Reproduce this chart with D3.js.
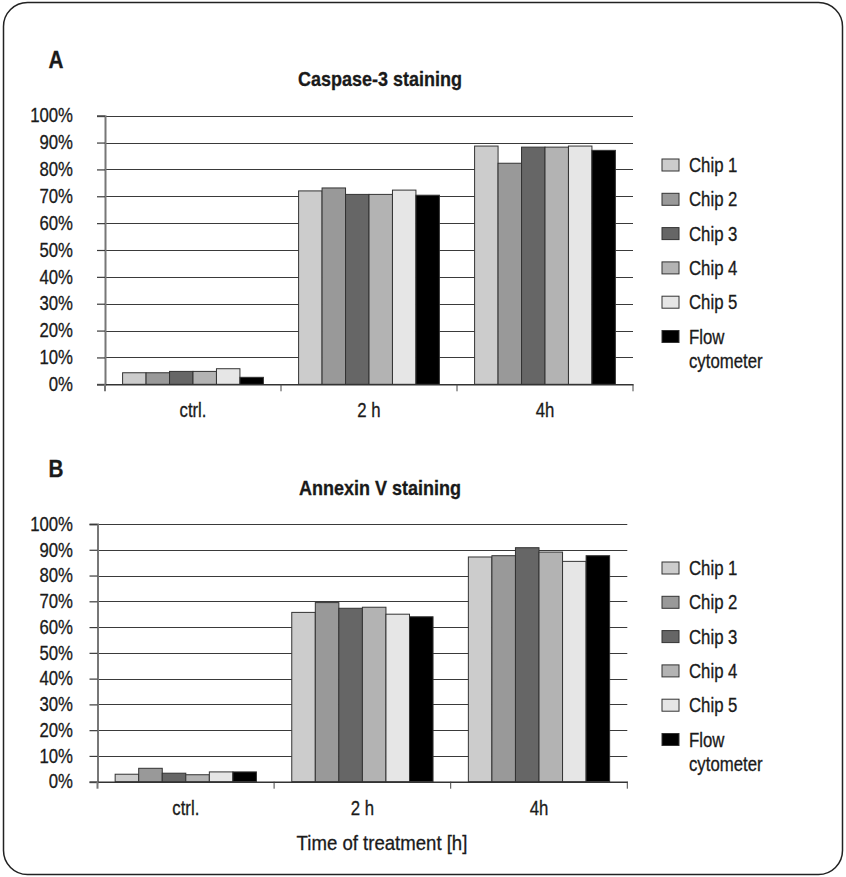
<!DOCTYPE html>
<html>
<head>
<meta charset="utf-8">
<script src="https://cdn.jsdelivr.net/npm/d3@7"></script>
<style>
  html, body { margin: 0; padding: 0; background: #fff; }
  svg { display: block; }
  text { font-family: "Liberation Sans", Arial, sans-serif; fill: #1a1a1a; stroke: #1a1a1a; stroke-width: 0.3px; }
</style>
</head>
<body>
<svg id="chart" width="846" height="877"></svg>
<script>
const categories = ["ctrl.", "2 h", "4h"];
const seriesNames = ["Chip 1", "Chip 2", "Chip 3", "Chip 4", "Chip 5", "Flow cytometer"];
const seriesColors = ["#cccccc", "#999999", "#666666", "#b3b3b3", "#e6e6e6", "#000000"];
const yTicks = [0, 10, 20, 30, 40, 50, 60, 70, 80, 90, 100];

// Caspase-3 staining (panel A), % per category for each series
const caspaseChip1 = [4.3, 72.0, 88.7];
const caspaseChip2 = [4.3, 73.1, 82.3];
const caspaseChip3 = [4.8, 70.7, 88.3];
const caspaseChip4 = [4.8, 70.7, 88.3];
const caspaseChip5 = [5.8, 72.3, 88.7];
const caspaseFlow  = [2.6, 70.4, 87.1];

// Annexin V staining (panel B)
const annexinChip1 = [2.9, 65.7, 87.2];
const annexinChip2 = [5.2, 69.5, 87.7];
const annexinChip3 = [3.3, 67.3, 90.8];
const annexinChip4 = [2.7, 67.7, 89.1];
const annexinChip5 = [3.8, 65.0, 85.5];
const annexinFlow  = [3.8, 64.0, 87.7];

const panels = [
  { letter: "A", title: "Caspase-3 staining",
    series: [caspaseChip1, caspaseChip2, caspaseChip3, caspaseChip4, caspaseChip5, caspaseFlow],
    x0: 105, x1: 633, yTop: 115.7, yBot: 384.3, letterY: 68, titleY: 86, catY: 417,
    legX: 662, legY: 165, xTitle: null },
  { letter: "B", title: "Annexin V staining",
    series: [annexinChip1, annexinChip2, annexinChip3, annexinChip4, annexinChip5, annexinFlow],
    x0: 97.5, x1: 627.3, yTop: 524, yBot: 781.7, letterY: 477, titleY: 495, catY: 817,
    legX: 662, legY: 568, xTitle: "Time of treatment [h]" }
];

const SX = 0.86;   // horizontal condensing for the narrow typeface of the original
function condense(sel, s) {
  sel.each(function() {
    const t = d3.select(this);
    const x = +(t.attr("x") || 0);
    t.attr("x", x / s).attr("transform", `scale(${s},1)`);
    t.selectAll("tspan").each(function() {
      const ts = d3.select(this);
      if (ts.attr("x") != null) ts.attr("x", +ts.attr("x") / s);
    });
  });
}

const svg = d3.select("#chart");

// rounded frame
svg.append("rect")
  .attr("x", 3.5).attr("y", 2.5).attr("width", 839).attr("height", 872)
  .attr("rx", 24).attr("ry", 24)
  .attr("fill", "none").attr("stroke", "#222").attr("stroke-width", 1.5);

panels.forEach(p => {
  const g = svg.append("g");
  const x = d3.scaleBand().domain(categories).range([p.x0, p.x1]).paddingInner(0).paddingOuter(0);
  const bw = x.bandwidth();
  const inner = d3.scaleBand().domain(d3.range(seriesNames.length))
    .range([bw * 0.1, bw * 0.9]).paddingInner(0).paddingOuter(0);
  const y = d3.scaleLinear().domain([0, 100]).range([p.yBot, p.yTop]);

  // gridlines
  g.append("g").selectAll("line").data(yTicks.filter(t => t > 0)).join("line")
    .attr("x1", p.x0).attr("x2", p.x1)
    .attr("y1", d => Math.round(y(d)) + 0.5).attr("y2", d => Math.round(y(d)) + 0.5)
    .attr("stroke", "#3a3a3a").attr("stroke-width", 1.2);

  // y axis
  const yAxis = d3.axisLeft(y).tickValues(yTicks).tickSize(8).tickPadding(p.x0 - 73 - 8)
    .tickFormat(d => d + "%");
  const ya = g.append("g").attr("transform", `translate(${p.x0},0)`).call(yAxis);
  ya.select(".domain").attr("stroke", "#777").attr("stroke-width", 2);
  ya.selectAll(".tick line").attr("stroke", "#3a3a3a").attr("stroke-width", 1.2);
  ya.selectAll(".tick text").attr("font-size", 19.5).attr("fill", "#1a1a1a")
    .attr("font-family", "'Liberation Sans', Arial, sans-serif");
  condense(ya.selectAll(".tick text"), SX);

  // bars
  const groups = g.append("g").selectAll("g").data(categories).join("g")
    .attr("transform", d => `translate(${x(d)},0)`);
  groups.selectAll("rect")
    .data((c, ci) => p.series.map((s, si) => ({ si, v: s[ci] })))
    .join("rect")
    .attr("x", d => inner(d.si))
    .attr("width", inner.bandwidth())
    .attr("y", d => y(d.v))
    .attr("height", d => y(0) - y(d.v))
    .attr("fill", d => seriesColors[d.si])
    .attr("stroke", "#333").attr("stroke-width", 1);

  // x axis
  const xAxis = d3.axisBottom(x).tickSize(0).tickPadding(19);
  const xa = g.append("g").attr("transform", `translate(0,${p.yBot})`).call(xAxis);
  xa.select(".domain").attr("stroke", "#333").attr("stroke-width", 1.5);
  xa.selectAll(".tick text").attr("font-size", 19.5).attr("fill", "#1a1a1a")
    .attr("font-family", "'Liberation Sans', Arial, sans-serif");
  condense(xa.selectAll(".tick text"), SX);
  // category separator ticks
  g.append("g").selectAll("line").data(categories).join("line")
    .attr("x1", d => x(d) + bw).attr("x2", d => x(d) + bw)
    .attr("y1", p.yBot).attr("y2", p.yBot + 7)
    .attr("stroke", "#444");
  g.append("line").attr("x1", p.x0).attr("x2", p.x0).attr("y1", p.yBot).attr("y2", p.yBot + 7)
    .attr("stroke", "#777").attr("stroke-width", 2);

  // letter and title
  const letter = g.append("text").attr("x", 56).attr("y", p.letterY).attr("text-anchor", "middle")
    .attr("font-size", 23).attr("font-weight", "bold").text(p.letter);
  condense(letter, 0.9);
  const title = g.append("text").attr("x", 380).attr("y", p.titleY).attr("text-anchor", "middle")
    .attr("font-size", 20).attr("font-weight", "bold").text(p.title);
  condense(title, 0.9);

  if (p.xTitle) {
    const xt = g.append("text").attr("x", 382).attr("y", 850).attr("text-anchor", "middle")
      .attr("font-size", 20).text(p.xTitle);
    condense(xt, 0.93);
  }

  // legend
  const leg = g.append("g").attr("transform", `translate(${p.legX},${p.legY})`);
  const items = leg.selectAll("g").data(seriesNames).join("g")
    .attr("transform", (d, i) => `translate(0,${i * 34.3})`);
  items.append("rect").attr("x", 0).attr("y", -6).attr("width", 17).attr("height", 12)
    .attr("fill", (d, i) => seriesColors[i]).attr("stroke", "#333").attr("stroke-width", 1);
  items.each(function(d) {
    const t = d3.select(this).append("text").attr("x", 27).attr("y", 7).attr("font-size", 19.5);
    const parts = d.split(" ");
    if (d === "Flow cytometer") {
      t.append("tspan").attr("x", 27).attr("dy", 0).text(parts[0]);
      t.append("tspan").attr("x", 27).attr("dy", 25).text(parts[1]);
    } else {
      t.text(d);
    }
    condense(t, SX);
  });
});
</script>
</body>
</html>
